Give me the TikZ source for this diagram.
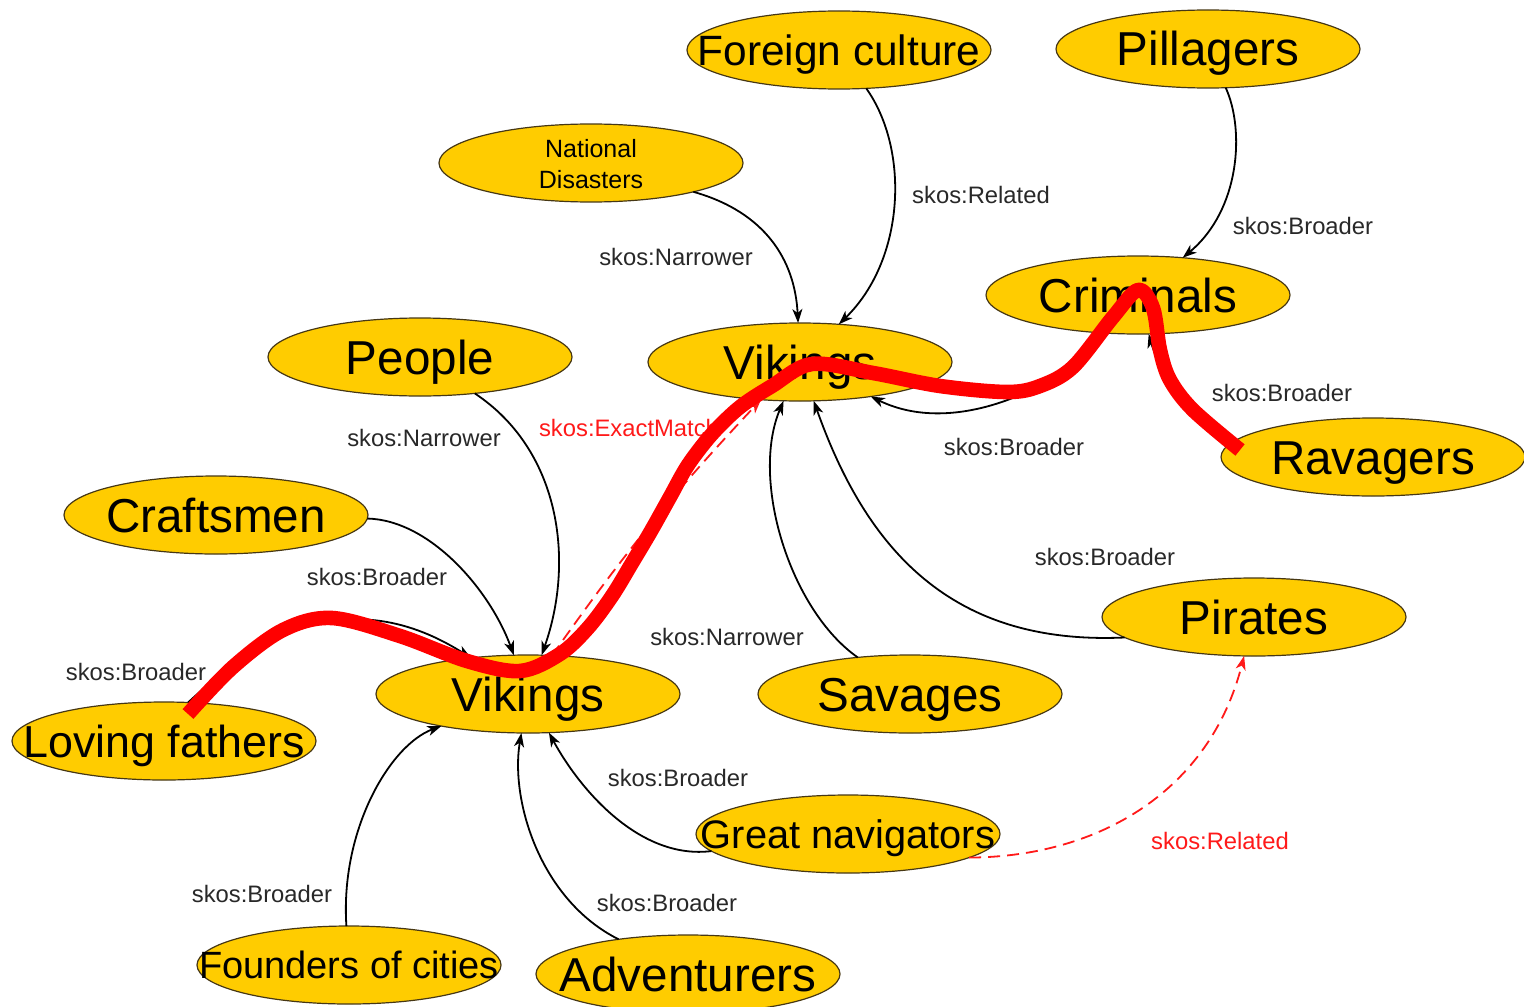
\documentclass[tikz,border=0pt]{standalone}
\usepackage{fontspec}
\setmainfont{Liberation Sans}
\usetikzlibrary{shapes.geometric,arrows.meta}
\definecolor{conceptfill}{RGB}{255,204,0}
\definecolor{conceptline}{RGB}{70,55,20}
\definecolor{labelgray}{RGB}{40,40,40}
\definecolor{scribblered}{RGB}{255,0,0}
\definecolor{relred}{RGB}{255,25,25}
\newcommand{\ctr}[1]{\makebox[0pt]{#1}}
\begin{document}
\begin{tikzpicture}[x=0.5pt,y=-0.5pt,
  concept/.style={ellipse, draw=conceptline, line width=0.6pt, fill=conceptfill,
    minimum width=152pt, minimum height=39pt, inner sep=0pt, outer sep=0pt},
  fs/.style 2 args={font=\fontsize{#1}{#1}\selectfont, text height=#2, text depth=0pt},
  big/.style={fs={23.8}{17pt}},
  rel/.style={draw=black, line width=0.9pt, -{Stealth[length=7pt,width=5pt,inset=2pt]}},
  match/.style={draw=relred, line width=0.9pt, dash pattern=on 6pt off 3.5pt,
    -{Stealth[length=7pt,width=5pt,inset=2pt]}},
  lbl/.style={font=\fontsize{11.9}{14}\selectfont, text=labelgray, inner sep=0pt},
  redlbl/.style={lbl, text=relred},
  scribble/.style={draw=scribblered, line width=7.3pt, line join=round}
]
\useasboundingbox (0,0) rectangle (1524,1006);

% concepts
\node[concept, fs={21.2}{15.2pt}] (fc) at (839,50)  {\ctr{Foreign culture}};
\node[concept, big]             (pi) at (1208,49) {\ctr{Pillagers}};
\node[concept, font=\fontsize{12.5}{15.5}\selectfont, text height=0pt, text depth=0pt] (nd) at (591,163)
  {\ctr{\raisebox{-5.1pt}[0pt][0pt]{\begin{tabular}{@{}c@{}}National\\Disasters\end{tabular}}}};
\node[concept, big]             (cr) at (1138,295) {\ctr{Criminals}};
\node[concept, big]             (pe) at (420,357)  {\ctr{People}};
\node[concept, big]             (vt) at (800,362)  {\ctr{Vikings}};
\node[concept, big]             (ra) at (1373,457) {\ctr{Ravagers}};
\node[concept, big]             (cm) at (216,515)  {\ctr{Craftsmen}};
\node[concept, big]             (pr) at (1254,617) {\ctr{Pirates}};
\node[concept, big]             (vb) at (528,694)  {\ctr{Vikings}};
\node[concept, big]             (sa) at (910,694)  {\ctr{Savages}};
\node[concept, fs={22.4}{16pt}] (lf) at (164,741) {\ctr{Loving fathers}};
\node[concept, fs={19.9}{14.2pt}] (gn) at (848,834) {\ctr{Great navigators}};
\node[concept, fs={19}{13.6pt}] (fo) at (349,965) {\ctr{Founders of cities}};
\node[concept, big]             (ad) at (688,974)  {\ctr{Adventurers}};

% relations
\draw[rel] (nd) .. controls (765,212) and (795,260) .. (vt);
\draw[rel] (fc) .. controls (910,150) and (905,260) .. (vt);
\draw[rel] (pi) .. controls (1245,130) and (1240,210) .. (cr);
\draw[rel] (cr) .. controls (1070,380) and (960,440) .. (vt);
\draw[rel] (ra.174) .. controls (1205,420) and (1160,375) .. (cr);
\draw[rel] (pe) .. controls (560,450) and (575,560) .. (vb);
\draw[rel] (cm) .. controls (430,520) and (490,590) .. (vb);
\draw[rel] (lf.58) .. controls (245,650) and (340,575) .. (vb);
\draw[rel] (sa) .. controls (790,610) and (750,480) .. (vt);
\draw[rel] (pr.189) .. controls (960,645) and (870,560) .. (vt);
\draw[rel] (gn) .. controls (640,860) and (580,790) .. (vb);
\draw[rel] (fo) .. controls (340,830) and (390,745) .. (vb);
\draw[rel] (ad) .. controls (540,900) and (510,800) .. (vb);
\draw[match] (vb.58) to[bend left=4] (vt.224);
\draw[match] (gn.-11) .. controls (1100,857) and (1210,790) .. (pr);

% relation labels
\node[lbl] (l1)  at (676,257)  {skos:Narrower};
\node[lbl] (l2)  at (981,195)  {skos:Related};
\node[lbl] (l3)  at (1303,226) {skos:Broader};
\node[lbl] (l4)  at (1014,447) {skos:Broader};
\node[lbl] (l5)  at (1282,393) {skos:Broader};
\node[lbl] (l6)  at (424,438)  {skos:Narrower};
\node[redlbl] (l7) at (629,428) {skos:ExactMatch};
\node[lbl] (l8)  at (377,577)  {skos:Broader};
\node[lbl] (l9)  at (727,637)  {skos:Narrower};
\node[lbl] (l10) at (1105,557) {skos:Broader};
\node[lbl] (l11) at (136,672)  {skos:Broader};
\node[lbl] (l12) at (678,778)  {skos:Broader};
\node[redlbl] (l13) at (1220,841) {skos:Related};
\node[lbl] (l14) at (262,894)  {skos:Broader};
\node[lbl] (l15) at (667,903)  {skos:Broader};

% freehand red stroke across the graph
\draw[scribble] plot[smooth, tension=0.55] coordinates {
  (188,714) (233,667) (283,630) (332,618) (400,636) (467,661) (520,671)
  (560,654) (588,628) (612,596) (632,563) (651,531) (670,497) (688,465)
  (712,434) (740,407) (772,386) (812,364) (873,373) (940,386) (1007,392)
  (1040,386) (1073,367) (1113,317) (1138,290) (1153,308) (1160,350)
  (1170,380) (1193,410) (1240,450)};
\end{tikzpicture}
\end{document}
